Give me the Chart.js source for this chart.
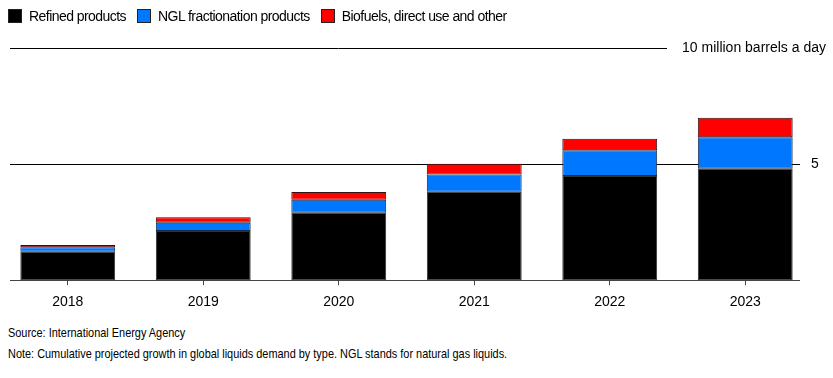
<!DOCTYPE html>
<html><head><meta charset="utf-8">
<script src="https://cdn.jsdelivr.net/npm/chart.js@4"></script>
<style>
body{margin:0;background:#fff;width:833px;height:378px;overflow:hidden;position:relative;font-family:"Liberation Sans",Arial,sans-serif;color:#000}
#legend{position:absolute;left:8px;top:8px;height:15px;display:flex;align-items:center;font-size:14px;white-space:nowrap;letter-spacing:-0.55px}
.item{display:flex;align-items:center;margin-right:11px}
.sw{width:12px;height:12px;border:1px solid #222;margin-right:7px}
#wrap{position:absolute;left:0;top:0;width:833px;height:320px}
.foot{position:absolute;left:8px;font-size:13px;white-space:nowrap;transform:scaleX(0.84);transform-origin:0 0}
</style></head>
<body>
<div id="wrap"><canvas id="c" width="833" height="320"></canvas></div>
<div id="legend"></div>
<div class="foot" style="top:325px">Source: International Energy Agency</div>
<div class="foot" style="top:346px">Note: Cumulative projected growth in global liquids demand by type. NGL stands for natural gas liquids.</div>
<script>
const years = ['2018','2019','2020','2021','2022','2023'];
const refined = [1.22, 2.12, 2.90, 3.81, 4.49, 4.80];
const ngl = [0.20, 0.35, 0.57, 0.74, 1.11, 1.36];
const biofuels = [0.10, 0.24, 0.33, 0.46, 0.49, 0.84];
const seriesNames = ['Refined products','NGL fractionation products','Biofuels, direct use and other'];
const seriesColors = ['#000000','#0077ff','#ff0000'];
const yTicks = [5, 10];
const yTickLabels = ['5', '10 million barrels a day'];

const lg = document.getElementById('legend');
seriesNames.forEach((n,i)=>{
  const it=document.createElement('div');it.className='item';
  const sw=document.createElement('span');sw.className='sw';sw.style.background=seriesColors[i];
  const tx=document.createElement('span');tx.textContent=n;
  it.appendChild(sw);it.appendChild(tx);lg.appendChild(it);
});

const FONT = '"Liberation Sans",Arial,sans-serif';

const gridPlugin = {
  id:'grid',
  beforeDatasetsDraw(chart){
    const ctx=chart.ctx, y=chart.scales.y;
    ctx.save();
    ctx.strokeStyle='#000';ctx.lineWidth=1;
    let p=Math.round(y.getPixelForValue(yTicks[1]))+0.5;
    ctx.beginPath();ctx.moveTo(10,p);ctx.lineTo(667,p);ctx.stroke();
    p=Math.round(y.getPixelForValue(yTicks[0]))+0.5;
    ctx.beginPath();ctx.moveTo(10,p);ctx.lineTo(800,p);ctx.stroke();
    ctx.restore();
  },
  afterDraw(chart){
    const ctx=chart.ctx, y=chart.scales.y;
    ctx.save();
    ctx.strokeStyle='#444';ctx.lineWidth=1;
    const b=Math.round(y.getPixelForValue(0))+0.5;
    ctx.beginPath();ctx.moveTo(10,b);ctx.lineTo(800,b);ctx.stroke();
    ctx.fillStyle='#000';ctx.font='14px '+FONT;ctx.textBaseline='middle';
    ctx.textAlign='left';
    ctx.fillText(yTickLabels[0],811,y.getPixelForValue(yTicks[0]));
    ctx.textAlign='right';
    ctx.fillText(yTickLabels[1],826,y.getPixelForValue(yTicks[1]));
    ctx.restore();
  }
};

new Chart(document.getElementById('c'),{
  type:'bar',
  data:{labels:years,datasets:[
    {label:seriesNames[0],data:refined,backgroundColor:seriesColors[0],borderColor:'#333'},
    {label:seriesNames[1],data:ngl,backgroundColor:seriesColors[1],borderColor:'#1a2a44'},
    {label:seriesNames[2],data:biofuels,backgroundColor:seriesColors[2],borderColor:'#331111'}
  ]},
  options:{
    responsive:false,animation:false,
    layout:{padding:{top:48,left:0,right:20,bottom:0}},
    plugins:{legend:{display:false},tooltip:{enabled:false}},
    datasets:{bar:{categoryPercentage:1,barPercentage:0.7,borderWidth:1,borderSkipped:false}},
    scales:{
      x:{stacked:true,border:{display:false},
        grid:{offset:false,drawOnChartArea:false,drawTicks:true,tickLength:5,color:'#444'},
        ticks:{color:'#000',font:{size:14,family:FONT},padding:9,maxRotation:0}},
      y:{stacked:true,display:false,min:0,max:10}
    }
  },
  plugins:[gridPlugin]
});
</script>
</body></html>
